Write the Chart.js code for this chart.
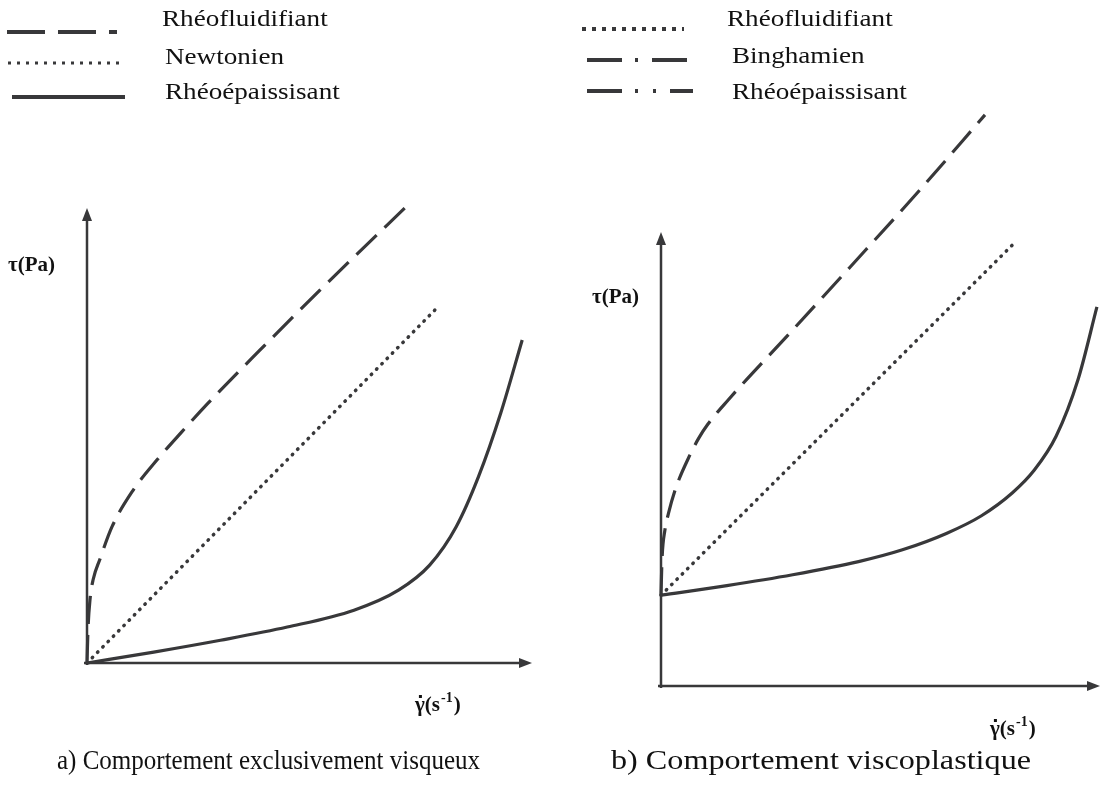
<!DOCTYPE html>
<html>
<head>
<meta charset="utf-8">
<script src="https://cdn.jsdelivr.net/npm/chart.js@4/dist/chart.umd.min.js"></script>
<style>
  body { margin: 0; background: #fff; }
  .panel { position: absolute; top: 0; width: 551px; height: 805px; }
  #panelA { left: 0; }
  #panelB { left: 551px; }
</style>
</head>
<body>
<div class="panel" id="panelA"><canvas id="chartA" width="551" height="805"></canvas></div>
<div class="panel" id="panelB"><canvas id="chartB" width="551" height="805"></canvas></div>
<script>
// Data -----------------------------------------------------------------------
// a) purely viscous behaviour (shear rate 0-100, stress 0-100, arbitrary units)
const thinningA = [
  { x: 0, y: 0 }, { x: 0.22, y: 7.3 }, { x: 0.67, y: 13.9 }, { x: 1.4, y: 18.4 },
  { x: 2.9, y: 22.8 }, { x: 5.6, y: 29.9 }, { x: 10.1, y: 37.6 }, { x: 15.7, y: 44.6 },
  { x: 21.3, y: 50.8 }, { x: 27.2, y: 57.1 }, { x: 38.9, y: 68.8 }, { x: 52.4, y: 82.0 },
  { x: 72.6, y: 101.1 }
];
const newtonianA = [{ x: 0, y: 0 }, { x: 78.2, y: 77.6 }];
const thickeningA = [
  { x: 0, y: 0 }, { x: 15, y: 2.4 }, { x: 30, y: 5.0 }, { x: 45, y: 7.9 },
  { x: 60, y: 11.6 }, { x: 70, y: 16.0 }, { x: 77, y: 21.5 }, { x: 83, y: 30.0 },
  { x: 88, y: 41.0 }, { x: 93, y: 55.0 }, { x: 97.8, y: 71.0 }
];

// b) viscoplastic behaviour (yield stress ~20)
const thinningB = [
  { x: 0, y: 20.0 }, { x: 0.23, y: 27.8 }, { x: 0.9, y: 34.4 }, { x: 1.7, y: 38.0 },
  { x: 3.3, y: 43.4 }, { x: 6.6, y: 50.9 }, { x: 8.6, y: 54.6 }, { x: 10.7, y: 57.7 },
  { x: 15.3, y: 63.0 }, { x: 29.4, y: 77.8 }, { x: 43.1, y: 92.3 }, { x: 59.0, y: 109.3 },
  { x: 73.8, y: 125.8 }
];
const binghamB = [{ x: 0, y: 20.0 }, { x: 80.0, y: 97.1 }];
const thickeningB = [
  { x: 0, y: 20.0 }, { x: 15, y: 22.1 }, { x: 30, y: 24.5 }, { x: 45, y: 27.4 },
  { x: 55, y: 30.0 }, { x: 65, y: 33.6 }, { x: 73, y: 37.5 }, { x: 80, y: 42.5 },
  { x: 85, y: 47.5 }, { x: 90, y: 55.0 }, { x: 95, y: 67.5 }, { x: 99.3, y: 83.5 }
];

const legendLabelsA = ['Rhéofluidifiant', 'Newtonien', 'Rhéoépaissisant'];
const legendLabelsB = ['Rhéofluidifiant', 'Binghamien', 'Rhéoépaissisant'];
const yTitle = 'τ(Pa)';
const xTitle = ['γ', '(s', '-1', ')'];
const captionA = 'a) Comportement exclusivement visqueux';
const captionB = 'b) Comportement viscoplastique';

// Styles ---------------------------------------------------------------------
const ink = '#38383a';
const serif = '"Liberation Serif", "Times New Roman", serif';
const dashed = [28, 11];
const dotted = [0.5, 7];

// Legend samples: x0, x1, y, dash pattern, width ; text x, y
const legendStyleA = [
  { x0: 7, x1: 117, y: 32, dash: [38, 13], w: 4, tx: 162, ty: 20 },
  { x0: 8, x1: 125, y: 63, dash: [3, 6], w: 3, tx: 165, ty: 58 },
  { x0: 12, x1: 125, y: 97, dash: [], w: 4, tx: 165, ty: 93 }
];
const legendStyleB = [
  { x0: 31, x1: 133, y: 29, dash: [4, 6], w: 4, tx: 176, ty: 20 },
  { x0: 36, x1: 136, y: 60, dash: [35, 13, 3, 14], w: 4, tx: 181, ty: 57 },
  { x0: 36, x1: 142, y: 91, dash: [35, 13, 3, 15, 3, 14], w: 4, tx: 181, ty: 93 }
];

// Functions ------------------------------------------------------------------
function lineSet(data, dash, cap, width) {
  return {
    data: data,
    borderColor: ink,
    borderWidth: width || 3.2,
    borderDash: dash,
    borderCapStyle: cap || 'butt',
    pointRadius: 0,
    cubicInterpolationMode: 'monotone',
    clip: false
  };
}

function arrowHead(ctx, x, y, dir) {
  ctx.beginPath();
  if (dir === 'up') {
    ctx.moveTo(x, y); ctx.lineTo(x - 5, y + 13); ctx.lineTo(x + 5, y + 13);
  } else {
    ctx.moveTo(x, y); ctx.lineTo(x - 13, y - 5); ctx.lineTo(x - 13, y + 5);
  }
  ctx.closePath();
  ctx.fill();
}

function drawXTitle(ctx, x, y) {
  ctx.font = 'bold 21px ' + serif;
  ctx.textBaseline = 'middle';
  ctx.textAlign = 'left';
  ctx.fillText(xTitle[0], x, y);
  let w = ctx.measureText(xTitle[0]).width;
  ctx.fillRect(x + w / 2 - 1, y - 11, 3, 3);
  ctx.fillText(xTitle[1], x + w, y);
  w += ctx.measureText(xTitle[1]).width;
  ctx.font = 'bold 14px ' + serif;
  ctx.fillText(xTitle[2], x + w + 1, y - 8);
  w += ctx.measureText(xTitle[2]).width + 2;
  ctx.font = 'bold 21px ' + serif;
  ctx.fillText(xTitle[3], x + w, y);
}

// text stretched to a target width
function fitText(ctx, text, x, y, font, targetW) {
  ctx.save();
  ctx.font = font;
  const k = targetW / ctx.measureText(text).width;
  ctx.translate(x, y);
  ctx.scale(k, 1);
  ctx.textAlign = 'left';
  ctx.fillText(text, 0, 0);
  ctx.restore();
}

function decorPlugin(o) {
  return {
    id: 'decor',
    beforeDatasetsDraw(chart) {
      const ctx = chart.ctx;
      const xs = chart.scales.x, ys = chart.scales.y;
      const x0 = xs.getPixelForValue(0), x1 = xs.getPixelForValue(100);
      const y0 = ys.getPixelForValue(0), y1 = ys.getPixelForValue(100);
      ctx.save();
      ctx.strokeStyle = ink;
      ctx.fillStyle = ink;
      ctx.lineWidth = 2.5;
      ctx.beginPath();
      ctx.moveTo(x0 - 3, y0); ctx.lineTo(x1 - 8, y0);
      ctx.moveTo(x0, y0 + 2); ctx.lineTo(x0, y1 + 8);
      ctx.stroke();
      arrowHead(ctx, x1, y0, 'right');
      arrowHead(ctx, x0, y1, 'up');

      // axis titles
      ctx.fillStyle = '#111';
      ctx.font = 'bold 21px ' + serif;
      ctx.textBaseline = 'middle';
      ctx.fillText(yTitle, o.yTitleX, o.yTitleY);
      drawXTitle(ctx, o.xTitleX, o.xTitleY);

      // legend
      o.legendStyle.forEach((s, i) => {
        ctx.strokeStyle = ink;
        ctx.lineWidth = s.w;
        ctx.setLineDash(s.dash);
        ctx.beginPath();
        ctx.moveTo(s.x0, s.y); ctx.lineTo(s.x1, s.y);
        ctx.stroke();
        ctx.setLineDash([]);
        ctx.fillStyle = '#111';
        ctx.save();
        ctx.translate(s.tx, s.ty);
        ctx.scale(1.13, 1);
        ctx.font = '24px ' + serif;
        ctx.textAlign = 'left';
        ctx.fillText(o.legendLabels[i], 0, 0);
        ctx.restore();
      });

      // caption
      ctx.fillStyle = '#111';
      fitText(ctx, o.caption, o.capX, 762, '27px ' + serif, o.capW);
      ctx.restore();
    }
  };
}

function renderPanel(id, datasets, padding, o) {
  new Chart(document.getElementById(id), {
    type: 'line',
    data: { datasets: datasets },
    options: {
      responsive: false,
      animation: false,
      devicePixelRatio: 1,
      layout: { padding: padding },
      scales: {
        x: { type: 'linear', min: 0, max: 100, display: false },
        y: { type: 'linear', min: 0, max: 100, display: false }
      },
      plugins: { legend: { display: false }, tooltip: { enabled: false } }
    },
    plugins: [decorPlugin(o)]
  });
}

renderPanel('chartA',
  [lineSet(thinningA, dashed), lineSet(newtonianA, dotted, 'round', 3.5), lineSet(thickeningA, [])],
  { left: 87, right: 19, top: 208, bottom: 142 },
  { yTitleX: 8, yTitleY: 266, xTitleX: 415, xTitleY: 706,
    legendStyle: legendStyleA, legendLabels: legendLabelsA, caption: captionA, capX: 57, capW: 423 });

renderPanel('chartB',
  [lineSet(thinningB, dashed), lineSet(binghamB, dotted, 'round', 3.5), lineSet(thickeningB, [])],
  { left: 110, right: 2, top: 232, bottom: 119 },
  { yTitleX: 41, yTitleY: 298, xTitleX: 439, xTitleY: 730,
    legendStyle: legendStyleB, legendLabels: legendLabelsB, caption: captionB, capX: 60, capW: 420 });
</script>
</body>
</html>
